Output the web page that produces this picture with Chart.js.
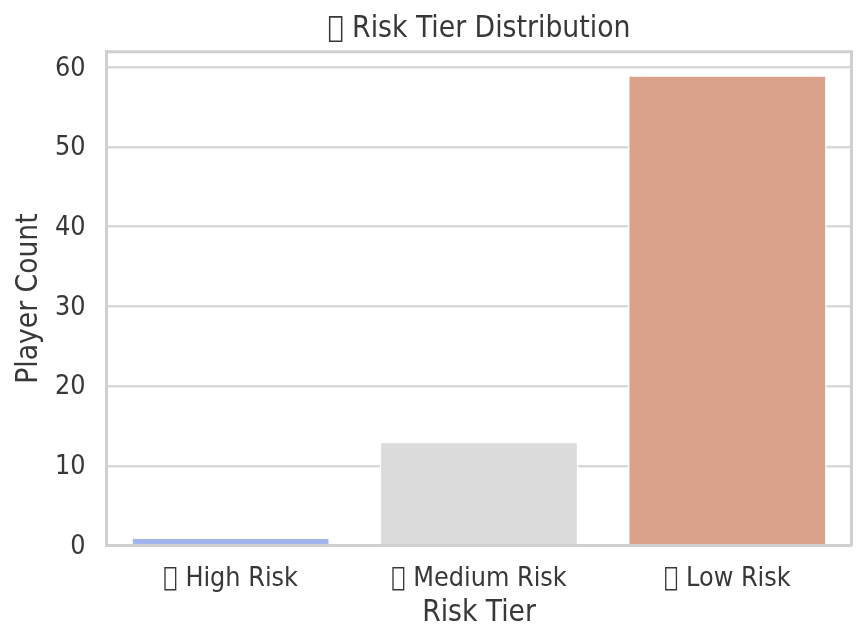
<!DOCTYPE html>
<html>
<head>
<meta charset="utf-8">
<script src="https://cdn.jsdelivr.net/npm/chart.js@4"></script>
<style>
html, body { margin: 0; padding: 0; background: #fff; }
#wrap { width: 862px; height: 644px; }
</style>
</head>
<body>
<div id="wrap"><canvas id="chart"></canvas></div>
<script>
// the icons in the reference are missing-glyph boxes, an unassigned code point gives the same box
const tofu = '\u{10FFFD}';
const chartTitle = tofu + ' Risk Tier Distribution';
const categories = [tofu + ' High Risk', tofu + ' Medium Risk', tofu + ' Low Risk'];
const playerCounts = [1, 13, 59];
const barColors = ['#a1b5ec', '#dbdbdb', '#dba28b'];
const yTicks = [0, 10, 20, 30, 40, 50, 60];

const textColor = '#383838';
const spineColor = '#d0d0d0';
const gridColor = '#d9d9d9';
const fontFamily = '"DejaVu Sans Condensed", "DejaVu Sans", sans-serif';

new Chart(document.getElementById('chart').getContext('2d'), {
    type: 'bar',
    data: {
        labels: categories,
        datasets: [{
            data: playerCounts,
            backgroundColor: barColors,
            borderColor: '#ffffff',
            borderWidth: 1.5,
            categoryPercentage: 1,
            barPercentage: 0.8
        }]
    },
    options: {
        responsive: true,
        maintainAspectRatio: false,
        animation: false,
        layout: { padding: { left: 0, right: 10.5, top: 0, bottom: 0 } },
        plugins: {
            legend: { display: false },
            tooltip: { enabled: false },
            title: {
                display: true,
                fullSize: false,
                text: chartTitle,
                color: textColor,
                font: { family: fontFamily, size: 29.7, weight: 'normal' },
                padding: { top: 11, bottom: 5 }
            }
        },
        scales: {
            x: {
                grid: { display: false },
                border: { color: spineColor, width: 3 },
                ticks: {
                    color: textColor,
                    font: { family: fontFamily, size: 26.7 },
                    padding: 9.5,
                    maxRotation: 0
                },
                title: {
                    display: true,
                    text: 'Risk Tier',
                    color: textColor,
                    font: { family: fontFamily, size: 29.6 },
                    padding: { top: 0, bottom: 13 }
                },
                afterFit: function(scale) { scale.height = 98.5; }
            },
            y: {
                min: 0,
                max: 61.95,
                afterBuildTicks: function(scale) {
                    scale.ticks = yTicks.map(v => ({ value: v }));
                },
                grid: { color: gridColor, lineWidth: 2.5, drawTicks: false },
                border: { color: spineColor, width: 3 },
                ticks: {
                    color: textColor,
                    font: { family: fontFamily, size: 26.7 },
                    padding: 21
                },
                title: {
                    display: true,
                    text: 'Player Count',
                    color: textColor,
                    font: { family: fontFamily, size: 29.6 },
                    padding: { top: 12, bottom: 0 }
                },
                afterFit: function(scale) { scale.width = 106.5; }
            }
        }
    },
    plugins: [{
        // right and top frame, like the other two spines
        id: 'frame',
        afterDraw: function(chart) {
            const c = chart.ctx, a = chart.chartArea;
            c.save();
            c.strokeStyle = spineColor;
            c.lineWidth = 3;
            c.beginPath();
            c.moveTo(a.left, a.top);
            c.lineTo(a.right, a.top);
            c.lineTo(a.right, a.bottom);
            c.stroke();
            c.restore();
        }
    }, {
        // y tick labels sit a bit high against their grid lines
        id: 'nudgeTicks',
        afterUpdate: function(chart) {
            chart.scales.y.getLabelItems().forEach(item => {
                item.options.translation[1] += 1.5;
            });
        }
    }]
});
</script>
</body>
</html>
